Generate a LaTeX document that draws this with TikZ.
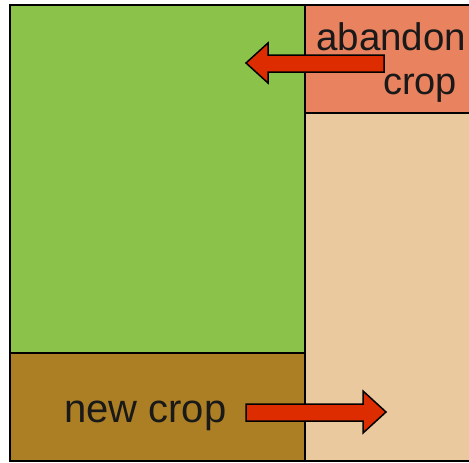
\documentclass[tikz,border=0pt]{standalone}
\usepackage{fontspec}
\setmainfont{Liberation Sans}
\definecolor{cgreen}{RGB}{139,195,74}
\definecolor{csalmon}{RGB}{232,130,95}
\definecolor{ctan}{RGB}{235,201,159}
\definecolor{cbrown}{RGB}{173,127,36}
\definecolor{cred}{RGB}{221,44,0}
\begin{document}
\begin{tikzpicture}[x=1pt,y=-1pt,
  region/.style={draw=black,line width=1.6pt},
  bigarrow/.style={fill=cred,draw=black,line width=1.5pt,line join=miter},
  lbl/.style={inner sep=0pt,anchor=base west,text=black!90}]
\useasboundingbox (0,0) rectangle (469,463);
\fill[white] (0,0) rectangle (469,463);
\begin{scope}
\clip (0,0) rectangle (469,463);
\filldraw[region,fill=cgreen] (10,5) rectangle (305,353);
\filldraw[region,fill=cbrown] (10,353) rectangle (305,461);
\filldraw[region,fill=csalmon] (305,5) rectangle (480,113);
\filldraw[region,fill=ctan] (305,113) rectangle (480,461);
\node[lbl,font=\fontsize{38.5}{42}\selectfont] (ab) at (316,50) {abandon};
\end{scope}
\node[lbl,font=\fontsize{38}{42}\selectfont] (cr) at (383,94) {crop};
\node[lbl,font=\fontsize{40}{44}\selectfont] (nc) at (64,422) {new crop};
\coordinate (t1tail) at (384,64);
\coordinate (t1tip) at (246,63);
\draw[bigarrow] (384,55) -- (268,55) -- (268,43) -- (246,63) -- (268,83) -- (268,72) -- (384,72) -- cycle;
\coordinate (t2tail) at (246,413);
\coordinate (t2tip) at (386,412);
\draw[bigarrow] (246,404) -- (363,404) -- (363,391) -- (386,412) -- (363,433) -- (363,421) -- (246,421) -- cycle;
\end{tikzpicture}
\end{document}
